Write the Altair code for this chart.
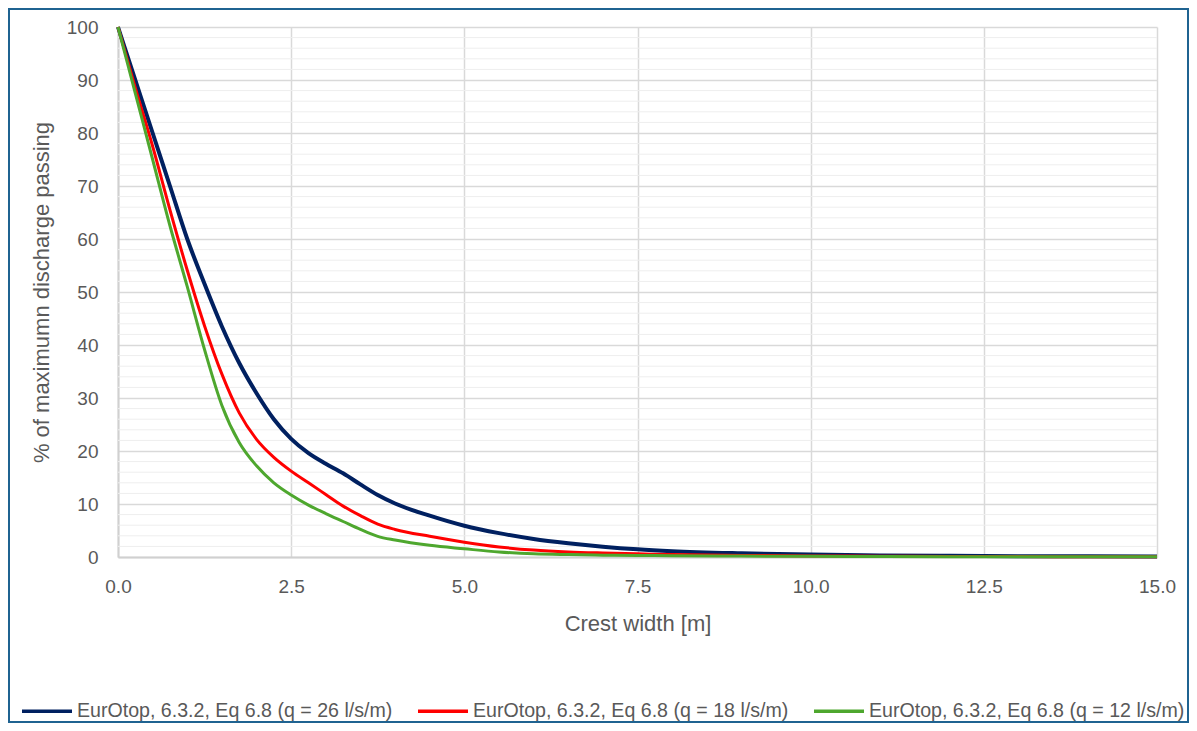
import altair as alt
import pandas as pd

# Crest width [m]
x_m = [0, 0.25, 0.5, 0.75, 1.0, 1.25, 1.5, 1.75, 2.0, 2.25, 2.5, 2.75, 3.0, 3.25,
       3.5, 3.75, 4.0, 4.5, 5.0, 5.5, 6.0, 6.5, 7.0, 7.5, 8.0, 9.0, 10.0, 11.0,
       12.0, 13.0, 14.0, 15.0]

# % of maximum discharge passing
q26 = [100, 90.0, 80.0, 70.0, 60.0, 51.5, 43.5, 36.6, 30.9, 26.0, 22.3, 19.6,
       17.6, 15.8, 13.7, 11.7, 10.1, 7.8, 5.9, 4.5, 3.4, 2.6, 1.95, 1.45, 1.1,
       0.7, 0.45, 0.3, 0.22, 0.16, 0.12, 0.1]
q18 = [100, 88.5, 77.5, 65.5, 54.1, 43.6, 34.5, 27.2, 22.2, 18.8, 16.2, 14.0,
       11.8, 9.6, 7.8, 6.2, 5.2, 3.9, 2.8, 1.9, 1.3, 0.95, 0.75, 0.6, 0.45,
       0.3, 0.2, 0.15, 0.1, 0.08, 0.06, 0.05]
q12 = [100, 87.5, 75.0, 62.5, 51.0, 39.1, 28.6, 21.6, 17.2, 14.0, 11.7, 9.8,
       8.2, 6.7, 5.2, 3.9, 3.2, 2.2, 1.55, 0.95, 0.6, 0.45, 0.35, 0.3, 0.25,
       0.18, 0.12, 0.08, 0.06, 0.05, 0.04, 0.03]

labels = ["EurOtop, 6.3.2, Eq 6.8 (q = 26 l/s/m)",
          "EurOtop, 6.3.2, Eq 6.8 (q = 18 l/s/m)",
          "EurOtop, 6.3.2, Eq 6.8 (q = 12 l/s/m)"]
colors = ["#002060", "#ff0000", "#4ea72e"]
widths = [4, 3, 3]

x_ticks = [0, 2.5, 5.0, 7.5, 10.0, 12.5, 15.0]
y_ticks = list(range(0, 101, 10))
y_minor = [v for v in range(2, 100, 2) if v % 10 != 0]

FONT = "Liberation Sans"
GREY = "#595959"

rows = []
for lab, ser in zip(labels, [q26, q18, q12]):
    for xv, yv in zip(x_m, ser):
        rows.append({"x": xv, "y": yv, "series": lab})
df = pd.DataFrame(rows)

xscale = alt.Scale(domain=[0, 15], nice=False, zero=False)
yscale = alt.Scale(domain=[0, 100], nice=False)

x_axis = alt.Axis(values=x_ticks, format=".1f", title="Crest width [m]",
                  grid=True, gridColor="#d9d9d9", gridWidth=1.5,
                  domainColor="#d0d0d0", domainWidth=2, ticks=False,
                  labelPadding=20, labelFontSize=19, labelColor=GREY,
                  labelFont=FONT, labelFlush=False, labelOverlap=False,
                  titleFont=FONT, titleFontSize=22, titleColor=GREY,
                  titleFontWeight="normal", titleY=73,
                  titleBaseline="alphabetic")
y_axis = alt.Axis(values=y_ticks, format="d",
                  title="% of maximumn discharge passing",
                  grid=True, gridColor="#d9d9d9", gridWidth=1.5,
                  domainColor="#d0d0d0", domainWidth=2, ticks=False,
                  labelPadding=20, labelFontSize=19, labelColor=GREY,
                  labelFont=FONT, labelOverlap=False,
                  titleFont=FONT, titleFontSize=22, titleColor=GREY,
                  titleFontWeight="normal", titleX=-70, titleY=265,
                  titleBaseline="alphabetic", titleAngle=270)

minor = alt.Chart(pd.DataFrame({"v": y_minor})).mark_rule(
    color="#eeeeee", strokeWidth=1
).encode(y=alt.Y("v:Q", scale=yscale, axis=y_axis))

legend = alt.Legend(orient="none", legendX=-98, legendY=657,
                    direction="horizontal", columns=3, symbolType="stroke",
                    symbolSize=2500, symbolStrokeWidth=3.5,
                    labelFontSize=19.6, labelColor=GREY, labelFont=FONT,
                    labelLimit=600, labelOffset=3, columnPadding=18,
                    title=None, padding=0)

color = alt.Color("series:N", scale=alt.Scale(domain=labels, range=colors),
                  legend=legend)

layers = [minor]
for lab, w in zip(labels, widths):
    layers.append(
        alt.Chart(df).transform_filter(alt.datum.series == lab)
        .mark_line(strokeWidth=w, interpolate="monotone")
        .encode(x=alt.X("x:Q", scale=xscale, axis=x_axis),
                y=alt.Y("y:Q", scale=yscale, axis=y_axis),
                color=color)
    )

frame = alt.Chart(pd.DataFrame({"a": [0]})).mark_rect(
    fill="transparent", stroke="#1f6391", strokeWidth=2
).encode(x=alt.value(-109), x2=alt.value(1070),
         y=alt.value(-18), y2=alt.value(695))
layers.append(frame)

chart = alt.layer(*layers).properties(
    width=1039, height=530,
    padding={"left": 110, "top": 19, "right": 32, "bottom": 166},
    autosize=alt.AutoSizeParams(type="none"),
    background="white",
).configure_view(stroke=None)

chart.save("out.html", embed_options={"renderer": "svg", "actions": False})
